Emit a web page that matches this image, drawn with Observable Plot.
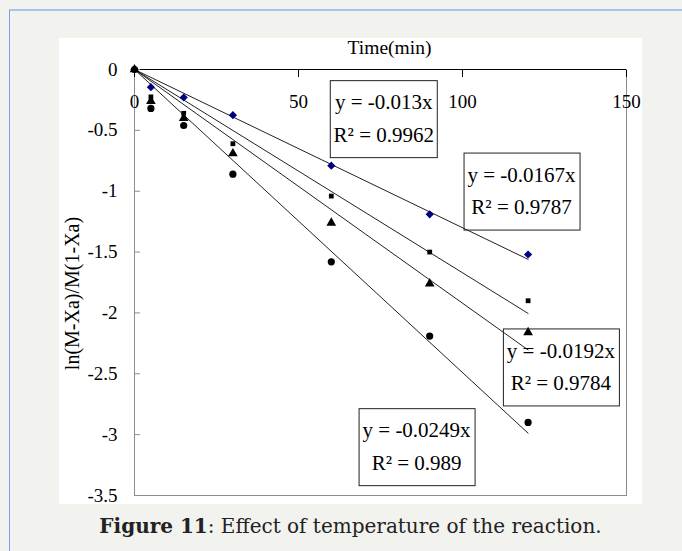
<!DOCTYPE html>
<html><head><meta charset="utf-8">
<script src="https://cdn.jsdelivr.net/npm/d3@7"></script>
<script src="https://cdn.jsdelivr.net/npm/@observablehq/plot@0.6"></script>
<style>
html,body{margin:0;padding:0;}
body{width:682px;height:551px;background:#f2f2ee;position:relative;overflow:hidden;}
#edge{position:absolute;left:9px;top:9px;right:0;bottom:0;border-top:2px solid #a7c5ef;border-left:1px solid #74a3e7;}
#chart{position:absolute;left:59px;top:38px;width:583px;height:466px;background:#fff;}
#chart svg{overflow:visible;}
#chart svg text{font-family:"Liberation Serif","Times New Roman",serif !important;}
#caption{position:absolute;left:0;width:701px;top:515px;line-height:22px;text-align:center;font-family:"DejaVu Serif",serif;font-size:20px;color:#222;}
</style></head><body>
<div id="edge"></div>
<div id="chart"></div>
<div id="caption"><b>Figure 11</b>: Effect of temperature of the reaction.</div>
<script>
// Data
const times = [0, 5, 15, 30, 60, 90, 120];
const seriesDiamond  = [0, -0.145, -0.23, -0.375, -0.79, -1.19, -1.52];
const seriesSquare   = [0, -0.225, -0.36, -0.61, -1.04, -1.50, -1.90];
const seriesTriangle = [0, -0.26, -0.40, -0.69, -1.26, -1.76, -2.16];
const seriesCircle   = [0, -0.32, -0.46, -0.86, -1.58, -2.19, -2.90];
const slopes = [-0.013, -0.0167, -0.0192, -0.0249];
const r2Values = ["0.9962", "0.9787", "0.9784", "0.989"];
const labelTimes = [76, 118, 130, 86];
const labelValues = [-0.375, -0.97, -2.415, -3.07];
const xTicks = [0, 50, 100, 150];
const yTicks = [0, -0.5, -1, -1.5, -2, -2.5, -3, -3.5];
const xTitle = "Time(min)";
const yTitle = "ln(M-Xa)/M(1-Xa)";

const FONT = "Liberation Serif";
const toPts = s => s.map((v, j) => ({t: times[j], v}));
const tMin = times[0], tMax = times[times.length - 1];
const fits = slopes.flatMap((m, i) => [{k: i, t: tMin, v: m * tMin}, {k: i, t: tMax, v: m * tMax}]);
const annots = slopes.map((m, i) => ({t: labelTimes[i], v: labelValues[i], text: `y = ${m}x\nR² = ${r2Values[i]}`}));

const svg = Plot.plot({
  width: 583, height: 466,
  marginLeft: 75, marginTop: 31, marginRight: 16, marginBottom: 9,
  style: {fontFamily: FONT, fontSize: "19px", background: "white", color: "#000", overflow: "visible"},
  x: {domain: [0, 150]},
  y: {domain: [-3.5, 0]},
  marks: [
    Plot.frame({stroke: "#8c8c8c"}),
    Plot.ruleY([0], {stroke: "#000"}),
    Plot.axisY(yTicks, {anchor: "left", label: null, tickSize: -6, tickPadding: 23, tickFormat: d => String(d), stroke: "#8c8c8c", fill: "#000", fontSize: 19, fontFamily: FONT}),
    Plot.axisX(xTicks, {anchor: "top", label: null, tickSize: -7, tickFormat: () => "", stroke: "#000"}),
    Plot.text(xTicks, {x: d => d, frameAnchor: "top", lineAnchor: "middle", dy: 32, text: d => String(d), fontSize: 19, fill: "#000", fontFamily: FONT}),
    Plot.text([xTitle], {frameAnchor: "top", lineAnchor: "middle", textAnchor: "middle", dx: 9, dy: -22, fontSize: 19.5, fill: "#000", fontFamily: FONT, letterSpacing: "-0.3px"}),
    Plot.text([yTitle], {frameAnchor: "left", textAnchor: "middle", lineAnchor: "middle", rotate: -90, dx: -62, dy: 11, fontSize: 20, fill: "#000", fontFamily: FONT}),
    Plot.line(fits, {x: "t", y: "v", z: "k", stroke: "#222", strokeWidth: 1}),
    Plot.dot(toPts(seriesDiamond), {x: "t", y: "v", symbol: "diamond2", r: 3.7, fill: "#000080", stroke: "none"}),
    Plot.dot(toPts(seriesSquare), {x: "t", y: "v", symbol: "square", r: 2.7, fill: "#000", stroke: "none"}),
    Plot.dot(toPts(seriesTriangle), {x: "t", y: "v", symbol: "triangle", r: 3.6, fill: "#000", stroke: "none"}),
    Plot.dot(toPts(seriesCircle), {x: "t", y: "v", symbol: "circle", r: 3.6, fill: "#000", stroke: "none"}),
    Plot.text(annots, {x: "t", y: "v", text: "text", fontSize: 21, lineHeight: 1.55, fill: "#000", fontFamily: FONT, className: "annot"})
  ]
});
document.getElementById("chart").appendChild(svg);

// frame boxes around the regression labels
d3.select(svg).selectAll("g.annot text").each(function() {
  const b = this.getBBox();
  const padX = 3.5, padY = 10;
  const r = d3.select(this.parentNode).insert("rect", ":first-child")
    .attr("x", Math.round(b.x - padX) + 0.5)
    .attr("y", Math.round(b.y - padY) + 0.5)
    .attr("width", Math.round(b.width + 2 * padX))
    .attr("height", Math.round(b.height + 2 * padY))
    .attr("fill", "none")
    .attr("stroke", "#222")
    .attr("stroke-width", 1);
  const tr = this.getAttribute("transform");
  if (tr) r.attr("transform", tr);
});
</script>
</body></html>
